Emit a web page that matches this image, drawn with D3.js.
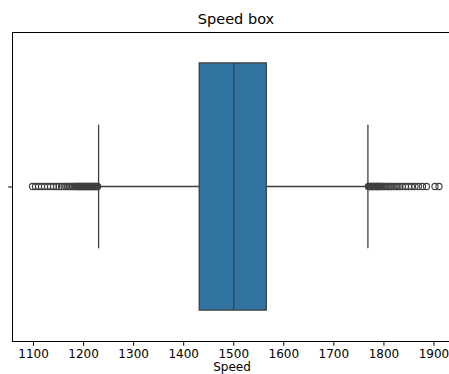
<!DOCTYPE html>
<html>
<head>
<meta charset="utf-8">
<script src="https://cdn.jsdelivr.net/npm/d3@7"></script>
<style>
  html, body { margin: 0; padding: 0; background: #fff; }
  svg { display: block; font-family: "DejaVu Sans", sans-serif; }
</style>
</head>
<body>
<svg id="chart" width="449" height="374"></svg>
<script>
// Box summary for Speed
const stats = { q1: 1433, median: 1502, q3: 1567, whiskerLow: 1232, whiskerHigh: 1770 };
const xTicks = [1100, 1200, 1300, 1400, 1500, 1600, 1700, 1800, 1900];
const xDomain = [1059, 1930];

// Points beyond the whiskers
const lowOutliers = [1100, 1106, 1112, 1118, 1124, 1130, 1136, 1142, 1148, 1153, 1158, 1163,
  1167, 1171, 1174, 1177, 1180, 1183, 1186, 1188, 1190, 1192, 1194, 1196, 1198, 1200, 1202,
  1204, 1206, 1208, 1210, 1212, 1214, 1216, 1218, 1220, 1222, 1224, 1226, 1228, 1230];
const highOutliers = [1771, 1773, 1775, 1777, 1779, 1781, 1783, 1785, 1787, 1789, 1791, 1793,
  1795, 1797, 1800, 1803, 1806, 1809, 1812, 1815, 1818, 1822, 1826, 1830, 1834, 1839, 1845,
  1851, 1857, 1864, 1871, 1879, 1887, 1904, 1912];

const svg = d3.select("#chart");
const m = { left: 12, right: 448, top: 32, bottom: 341 };
const lineColor = "#3f3f3f";

const x = d3.scaleLinear().domain(xDomain).range([m.left, m.right]);
const y = d3.scaleBand().domain(["Speed"]).range([m.top, m.bottom]).paddingInner(0).paddingOuter(0);
const cy = y("Speed") + y.bandwidth() / 2;
const boxH = y.bandwidth() * 0.8;
const capH = boxH / 2;

// Whiskers
svg.append("g").selectAll("line.whisker")
  .data([[stats.whiskerLow, stats.q1], [stats.q3, stats.whiskerHigh]])
  .join("line")
  .attr("x1", d => x(d[0])).attr("x2", d => x(d[1]))
  .attr("y1", cy).attr("y2", cy)
  .attr("stroke", lineColor).attr("stroke-width", 1.3);

// Caps
svg.append("g").selectAll("line.cap")
  .data([stats.whiskerLow, stats.whiskerHigh])
  .join("line")
  .attr("x1", d => x(d)).attr("x2", d => x(d))
  .attr("y1", cy - capH / 2).attr("y2", cy + capH / 2)
  .attr("stroke", lineColor).attr("stroke-width", 1.3);

// Box
svg.append("rect")
  .attr("x", x(stats.q1)).attr("width", x(stats.q3) - x(stats.q1))
  .attr("y", cy - boxH / 2).attr("height", boxH)
  .attr("fill", "#3274a1").attr("stroke", lineColor).attr("stroke-width", 1.3);

// Median
svg.append("line")
  .attr("x1", x(stats.median)).attr("x2", x(stats.median))
  .attr("y1", cy - boxH / 2).attr("y2", cy + boxH / 2)
  .attr("stroke", lineColor).attr("stroke-width", 1.3);

// Fliers
svg.append("g").selectAll("circle")
  .data(lowOutliers.concat(highOutliers))
  .join("circle")
  .attr("cx", d => x(d)).attr("cy", cy).attr("r", 3.1)
  .attr("fill", "none").attr("stroke", lineColor).attr("stroke-width", 1.1);

// Frame (right edge runs past the canvas)
svg.append("rect")
  .attr("x", m.left + 0.5).attr("y", m.top + 0.5)
  .attr("width", m.right - m.left + 4).attr("height", m.bottom - m.top)
  .attr("fill", "none").attr("stroke", "#000").attr("stroke-width", 1);

// X axis
const xAxis = svg.append("g")
  .attr("transform", `translate(0.5,${m.bottom + 0.5})`)
  .call(d3.axisBottom(x).tickValues(xTicks).tickSize(4.3).tickPadding(4).tickFormat(d3.format("d")));
xAxis.select(".domain").remove();
xAxis.attr("font-size", null).attr("font-family", null);
xAxis.selectAll("text")
  .style("font-size", "12px").style("font-family", "DejaVu Sans")
  .attr("fill", "#000");
xAxis.selectAll("line").attr("stroke", "#000");

// Y category tick (unlabelled)
svg.append("line")
  .attr("x1", m.left + 0.5 - 4.3).attr("x2", m.left + 0.5)
  .attr("y1", cy + 0.5).attr("y2", cy + 0.5)
  .attr("stroke", "#000");

// Labels
svg.append("text")
  .attr("x", (m.left + m.right) / 2 + 2).attr("y", 371)
  .attr("text-anchor", "middle").style("font-size", "12px").attr("fill", "#000")
  .text("Speed");

svg.append("text")
  .attr("x", (m.left + m.right) / 2 + 6).attr("y", 24)
  .attr("text-anchor", "middle").style("font-size", "14.5px").attr("fill", "#000")
  .text("Speed box");
</script>
</body>
</html>
